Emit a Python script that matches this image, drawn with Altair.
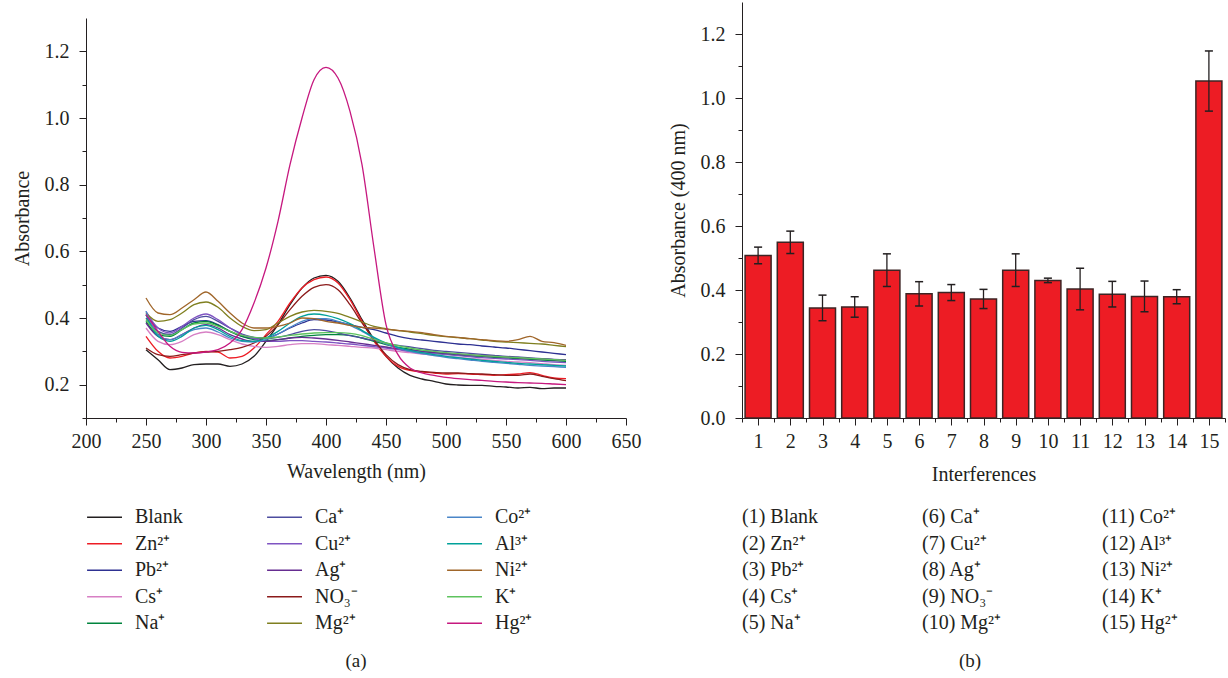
import altair as alt
import pandas as pd

FONT = "Liberation Serif"
INK = "#231f20"
FS = 20

# ---------------- panel (a): UV-vis spectra ----------------
wavelengths = list(range(250, 601, 10))
species = ["Blank", "Zn²⁺", "Pb²⁺", "Cs⁺", "Na⁺",
           "Ca⁺", "Cu²⁺", "Ag⁺", "NO₃⁻", "Mg²⁺",
           "Co²⁺", "Al³⁺", "Ni²⁺", "K⁺", "Hg²⁺"]
colors = ["#231f20", "#ed1c24", "#2e3192", "#d77fc4", "#00843d",
          "#4d4d9f", "#7f54c2", "#662d91", "#8b1a1a", "#7f7f1f",
          "#4a86c8", "#00a19a", "#a0662a", "#5ec35e", "#c6187f"]

blank = [0.305, 0.275, 0.245, 0.25, 0.26, 0.262, 0.262, 0.255, 0.262, 0.285, 0.33, 0.38,
         0.44, 0.49, 0.52, 0.528, 0.51, 0.46, 0.395, 0.335, 0.285, 0.25, 0.228, 0.217,
         0.21, 0.202, 0.199, 0.198, 0.198, 0.195, 0.193, 0.19, 0.192, 0.188, 0.19, 0.19]
zn = [0.345, 0.30, 0.28, 0.285, 0.295, 0.30, 0.298, 0.28, 0.285, 0.31, 0.35, 0.39,
      0.445, 0.49, 0.515, 0.523, 0.505, 0.455, 0.39, 0.33, 0.285, 0.255, 0.243, 0.238,
      0.235, 0.232, 0.233, 0.232, 0.23, 0.228, 0.23, 0.232, 0.236, 0.228, 0.22, 0.218]
pb = [0.41, 0.37, 0.36, 0.375, 0.39, 0.392, 0.38, 0.36, 0.345, 0.34, 0.34, 0.352,
      0.37, 0.385, 0.395, 0.394, 0.388, 0.38, 0.372, 0.365, 0.355, 0.345, 0.338, 0.334,
      0.33, 0.326, 0.322, 0.32, 0.316, 0.313, 0.31, 0.306, 0.302, 0.298, 0.294, 0.29]
cs = [0.37, 0.33, 0.32, 0.33, 0.35, 0.358, 0.35, 0.335, 0.322, 0.315, 0.312, 0.315,
      0.32, 0.323, 0.323, 0.32, 0.318, 0.315, 0.312, 0.31, 0.305, 0.30, 0.296, 0.292,
      0.288, 0.285, 0.282, 0.279, 0.276, 0.273, 0.27, 0.268, 0.266, 0.263, 0.26, 0.258]
na = [0.39, 0.35, 0.345, 0.365, 0.385, 0.39, 0.378, 0.36, 0.345, 0.335, 0.332, 0.335,
      0.34, 0.345, 0.348, 0.35, 0.35, 0.348, 0.34, 0.33, 0.32, 0.312, 0.306, 0.30,
      0.296, 0.292, 0.289, 0.286, 0.284, 0.282, 0.28, 0.278, 0.276, 0.274, 0.272, 0.27]
ca = [0.40, 0.36, 0.35, 0.37, 0.395, 0.405, 0.39, 0.37, 0.352, 0.342, 0.338, 0.342,
      0.35, 0.36, 0.365, 0.362, 0.355, 0.347, 0.34, 0.333, 0.325, 0.318, 0.313, 0.308,
      0.303, 0.30, 0.297, 0.294, 0.291, 0.288, 0.285, 0.283, 0.28, 0.278, 0.276, 0.274]
cu = [0.42, 0.37, 0.355, 0.375, 0.40, 0.412, 0.395, 0.37, 0.35, 0.338, 0.33, 0.33,
      0.332, 0.332, 0.33, 0.328, 0.325, 0.322, 0.318, 0.314, 0.31, 0.305, 0.30, 0.296,
      0.293, 0.29, 0.287, 0.284, 0.281, 0.279, 0.277, 0.275, 0.273, 0.27, 0.268, 0.266]
ag = [0.385, 0.345, 0.335, 0.35, 0.37, 0.38, 0.37, 0.35, 0.337, 0.33, 0.33, 0.335,
      0.34, 0.342, 0.34, 0.337, 0.333, 0.328, 0.323, 0.318, 0.313, 0.308, 0.304, 0.30,
      0.297, 0.294, 0.291, 0.289, 0.287, 0.285, 0.283, 0.281, 0.279, 0.277, 0.275, 0.274]
no3 = [0.31, 0.29, 0.285, 0.29, 0.295, 0.298, 0.30, 0.305, 0.312, 0.325, 0.345, 0.38,
       0.425, 0.465, 0.492, 0.50, 0.485, 0.44, 0.385, 0.335, 0.29, 0.26, 0.245, 0.24,
       0.237, 0.235, 0.235, 0.233, 0.232, 0.23, 0.228, 0.228, 0.232, 0.225, 0.218, 0.212]
mg = [0.415, 0.39, 0.395, 0.415, 0.44, 0.448, 0.432, 0.40, 0.375, 0.362, 0.365, 0.385,
      0.405, 0.418, 0.423, 0.42, 0.414, 0.402, 0.388, 0.375, 0.368, 0.362, 0.358, 0.353,
      0.348, 0.344, 0.341, 0.338, 0.334, 0.33, 0.328, 0.326, 0.324, 0.322, 0.318, 0.314]
co = [0.42, 0.35, 0.335, 0.35, 0.365, 0.37, 0.358, 0.34, 0.33, 0.328, 0.335, 0.352,
      0.372, 0.39, 0.398, 0.398, 0.39, 0.378, 0.36, 0.34, 0.322, 0.31, 0.30, 0.293,
      0.287, 0.282, 0.278, 0.274, 0.27, 0.267, 0.264, 0.261, 0.258, 0.256, 0.254, 0.252]
al = [0.41, 0.345, 0.33, 0.345, 0.37, 0.378, 0.365, 0.345, 0.332, 0.33, 0.34, 0.36,
      0.385, 0.405, 0.412, 0.408, 0.398, 0.383, 0.363, 0.342, 0.325, 0.312, 0.303, 0.296,
      0.29, 0.285, 0.281, 0.277, 0.273, 0.27, 0.267, 0.264, 0.262, 0.26, 0.258, 0.256]
ni = [0.46, 0.415, 0.41, 0.43, 0.455, 0.478, 0.45, 0.415, 0.385, 0.37, 0.37, 0.375,
      0.385, 0.40, 0.398, 0.39, 0.385, 0.378, 0.372, 0.37, 0.366, 0.363, 0.36, 0.356,
      0.35, 0.345, 0.342, 0.338, 0.335, 0.332, 0.33, 0.335, 0.345, 0.33, 0.326, 0.318]
k = [0.395, 0.355, 0.348, 0.365, 0.382, 0.385, 0.375, 0.36, 0.348, 0.342, 0.34, 0.343,
     0.348, 0.352, 0.355, 0.356, 0.356, 0.354, 0.347, 0.336, 0.325, 0.317, 0.31, 0.304,
     0.30, 0.296, 0.293, 0.29, 0.287, 0.285, 0.283, 0.281, 0.279, 0.277, 0.275, 0.273]
hg = [0.41, 0.36, 0.315, 0.297, 0.295, 0.298, 0.305, 0.325, 0.365, 0.445, 0.55, 0.69,
      0.86, 1.00, 1.115, 1.152, 1.12, 1.02, 0.86, 0.61, 0.38, 0.29, 0.25, 0.235,
      0.228, 0.222, 0.218, 0.215, 0.213, 0.21, 0.208, 0.206, 0.205, 0.204, 0.202, 0.20]

series = [blank, zn, pb, cs, na, ca, cu, ag, no3, mg, co, al, ni, k, hg]

# ---------------- panel (b): absorbance at 400 nm ----------------
bar_ids = list(range(1, 16))
bar_values = [0.508, 0.549, 0.344, 0.347, 0.462, 0.388, 0.392, 0.372, 0.462, 0.430,
              0.403, 0.387, 0.380, 0.379, 1.053]
bar_errors = [0.026, 0.035, 0.040, 0.032, 0.051, 0.038, 0.025, 0.030, 0.051, 0.007,
              0.065, 0.040, 0.048, 0.022, 0.094]
bar_legend = ["(1) Blank", "(2) Zn²⁺", "(3) Pb²⁺", "(4) Cs⁺", "(5) Na⁺",
              "(6) Ca⁺", "(7) Cu²⁺", "(8) Ag⁺", "(9) NO₃⁻", "(10) Mg²⁺",
              "(11) Co²⁺", "(12) Al³⁺", "(13) Ni²⁺", "(14) K⁺", "(15) Hg²⁺"]

# ---------------- tables ----------------
rows = []
for order, (name, vals) in enumerate(zip(species, series)):
    assert len(vals) == len(wavelengths), name
    for wl, a in zip(wavelengths, vals):
        rows.append({"sp": name, "wl": wl, "A": a, "ord": order})
spec_df = pd.DataFrame(rows)

bar_df = pd.DataFrame({"n": bar_ids, "v": bar_values, "e": bar_errors})

leg_a = pd.DataFrame({"name": species, "col": [i // 5 for i in range(15)],
                      "row": [i % 5 for i in range(15)]})
leg_b = pd.DataFrame({"name": bar_legend, "col": [i // 5 for i in range(15)],
                      "row": [i % 5 for i in range(15)]})

# ---------------- axes helpers ----------------
MAJ, MIN = 7, 4

ax_a_x = alt.Axis(values=list(range(200, 651, 25)), title="Wavelength (nm)",
                  labelExpr="datum.value % 50 === 0 ? datum.label : ''",
                  tickSize={"condition": {"test": "datum.value % 50 === 0", "value": MAJ}, "value": MIN},
                  labelOverlap=False, labelFlush=False, labelPadding=6, titlePadding=10)
ax_a_y = alt.Axis(values=[round(0.1 * i, 1) for i in range(1, 13)], title="Absorbance",
                  labelExpr="round(datum.value*10) % 2 === 0 ? format(datum.value, '.1f') : ''",
                  tickSize={"condition": {"test": "round(datum.value*10) % 2 === 0", "value": MAJ}, "value": MIN},
                  labelOverlap=False, labelFlush=False, labelPadding=10, titlePadding=12)

lines = alt.Chart(spec_df).mark_line(strokeWidth=1.3, interpolate="monotone").encode(
    x=alt.X("wl:Q", scale=alt.Scale(domain=[200, 650], nice=False, zero=False), axis=ax_a_x),
    y=alt.Y("A:Q", scale=alt.Scale(domain=[0.1, 1.3], nice=False, zero=False), axis=ax_a_y),
    color=alt.Color("sp:N", scale=alt.Scale(domain=species, range=colors), legend=None),
    order=alt.Order("ord:Q"),
).properties(width=540, height=400)

# legend for (a)
leg_scale_x = alt.Scale(domain=[0, 3], nice=False, zero=False)
leg_scale_y = alt.Scale(domain=[-0.5, 5.915], nice=False, zero=False, reverse=True)
leg_a_base = alt.Chart(leg_a).transform_calculate(
    x1="datum.col + 0.006", x2="datum.col + 0.2", tx="datum.col + 0.272")
leg_a_rules = leg_a_base.mark_rule(strokeWidth=1.5).encode(
    x=alt.X("x1:Q", scale=leg_scale_x, axis=None), x2="x2:Q",
    y=alt.Y("row:Q", scale=leg_scale_y, axis=None),
    color=alt.Color("name:N", scale=alt.Scale(domain=species, range=colors), legend=None))
leg_a_text = leg_a_base.mark_text(align="left", baseline="middle", font=FONT, fontSize=FS, color=INK).encode(
    x=alt.X("tx:Q", scale=leg_scale_x, axis=None),
    y=alt.Y("row:Q", scale=leg_scale_y, axis=None), text="name:N")
cap_a = alt.Chart(pd.DataFrame({"t": ["(a)"]})).mark_text(
    font=FONT, fontSize=19, color=INK, baseline="middle").encode(
    text="t:N", x=alt.value(270), y=alt.value(157))
legend_a = alt.layer(leg_a_rules, leg_a_text, cap_a).properties(width=540, height=170)

spacer = alt.Chart(pd.DataFrame({"v": [0]})).mark_point(opacity=0, size=0).encode(
    x=alt.X("v:Q", axis=None), y=alt.Y("v:Q", axis=None)).properties(width=540, height=16)

# ---------------- panel (b) chart ----------------
ax_b_x = alt.Axis(values=[0.5 * i for i in range(1, 32)], title="Interferences",
                  labelExpr="datum.value % 1 === 0 ? format(datum.value, 'd') : ''",
                  tickSize={"condition": {"test": "datum.value % 1 === 0", "value": MAJ}, "value": MIN},
                  labelOverlap=False, labelFlush=False, labelPadding=6, titlePadding=13)
ax_b_y = alt.Axis(values=[round(0.1 * i, 1) for i in range(0, 13)], title="Absorbance (400 nm)",
                  labelExpr="round(datum.value*10) % 2 === 0 ? format(datum.value, '.1f') : ''",
                  tickSize={"condition": {"test": "round(datum.value*10) % 2 === 0", "value": MAJ}, "value": MIN},
                  labelOverlap=False, labelFlush=False, labelPadding=10, titlePadding=12)
sx = alt.Scale(domain=[0.5, 15.5], nice=False, zero=False)
sy = alt.Scale(domain=[0, 1.3], nice=False, zero=False)

b_base = alt.Chart(bar_df).transform_calculate(
    b0="datum.n - 0.404", b1="datum.n + 0.404",
    lo="datum.v - datum.e", hi="datum.v + datum.e",
    c0="datum.n - 0.125", c1="datum.n + 0.125")
bars = b_base.mark_bar(color="#ed1c24", stroke="#3d2424", strokeWidth=1.5).encode(
    x=alt.X("b0:Q", scale=sx, axis=ax_b_x), x2="b1:Q",
    y=alt.Y("v:Q", scale=sy, axis=ax_b_y), y2=alt.datum(0))
err = b_base.mark_rule(color=INK, strokeWidth=1.3).encode(
    x=alt.X("n:Q", scale=sx, axis=ax_b_x),
    y=alt.Y("lo:Q", scale=sy, axis=ax_b_y), y2="hi:Q")
cap_hi = b_base.mark_rule(color=INK, strokeWidth=1.5).encode(
    x=alt.X("c0:Q", scale=sx, axis=ax_b_x), x2="c1:Q",
    y=alt.Y("hi:Q", scale=sy, axis=ax_b_y))
cap_lo = b_base.mark_rule(color=INK, strokeWidth=1.5).encode(
    x=alt.X("c0:Q", scale=sx, axis=ax_b_x), x2="c1:Q",
    y=alt.Y("lo:Q", scale=sy, axis=ax_b_y))
plot_b = alt.layer(bars, err, cap_hi, cap_lo).properties(width=483, height=416)

leg_scale_xb = alt.Scale(domain=[0, 483 / 180], nice=False, zero=False)
leg_b_base = alt.Chart(leg_b).transform_calculate(tx="datum.col")
leg_b_text = leg_b_base.mark_text(align="left", baseline="middle", font=FONT, fontSize=FS, color=INK).encode(
    x=alt.X("tx:Q", scale=leg_scale_xb, axis=None),
    y=alt.Y("row:Q", scale=leg_scale_y, axis=None), text="name:N")
cap_b = alt.Chart(pd.DataFrame({"t": ["(b)"]})).mark_text(
    font=FONT, fontSize=19, color=INK, baseline="middle").encode(
    text="t:N", x=alt.value(228), y=alt.value(157))
legend_b = alt.layer(leg_b_text, cap_b).properties(width=483, height=170)

col_a = alt.vconcat(spacer, alt.vconcat(lines, legend_a, spacing=86, bounds="flush"),
                    spacing=0)
col_b = alt.vconcat(plot_b, legend_b, spacing=86, bounds="flush")

chart = alt.hconcat(col_a, col_b, spacing=27).properties(
    padding={"left": 12, "top": 2, "right": 0, "bottom": 0}
).configure_view(stroke=None).configure_axis(
    labelFont=FONT, titleFont=FONT, labelFontSize=FS, titleFontSize=FS,
    titleFontWeight="normal", labelColor=INK, titleColor=INK,
    domainColor=INK, tickColor=INK, grid=False, domainWidth=1, tickWidth=1)

chart.save("out.html", embed_options={"renderer": "svg", "actions": False})
